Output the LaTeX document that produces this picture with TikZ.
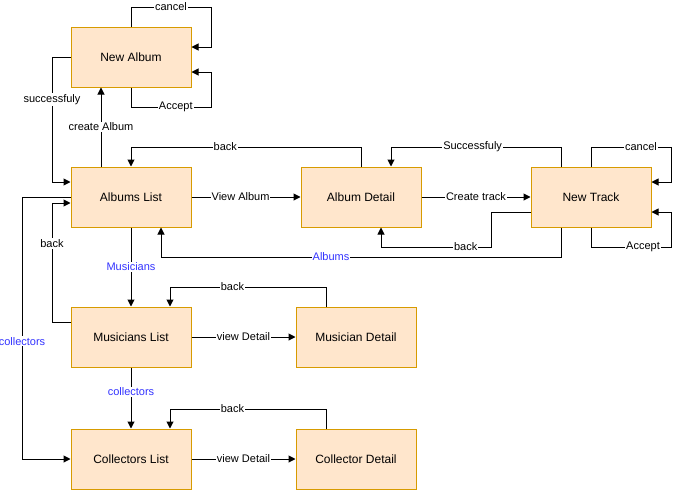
\documentclass[tikz,border=0pt]{standalone}
\usepackage{fontspec}
\setmainfont{Liberation Sans}
\usetikzlibrary{arrows.meta}
\definecolor{boxfill}{HTML}{FFE6CC}
\definecolor{boxborder}{HTML}{D79B00}
\definecolor{labblue}{HTML}{3333FF}
\begin{document}
\begin{tikzpicture}[x=1pt,y=-1pt,
  box/.style={draw=boxborder, fill=boxfill, line width=1pt, minimum width=120pt, minimum height=60pt, inner sep=0pt, font=\fontsize{12}{14}\selectfont},
  lab/.style={fill=white, inner sep=1pt, font=\fontsize{11}{13}\selectfont},
  blab/.style={lab, text=labblue},
  arr/.style={line width=1pt, -{Triangle[length=7pt,width=7pt]}}]
\useasboundingbox (0,0) rectangle (680,490);

\node[box] (na) at (131,57) {New Album};
\node[box] (al) at (131,197) {Albums List};
\node[box] (ad) at (361,197) {Album Detail};
\node[box] (nt) at (591,197) {New Track};
\node[box] (ml) at (131,337) {Musicians List};
\node[box] (md) at (356,337) {Musician Detail};
\node[box] (cl) at (131,459) {Collectors List};
\node[box] (cd) at (356,459) {Collector Detail};

% New Album loops
\draw[arr] (na.north) -- (131,7) -- node[lab]{cancel} (211,7) -- (211,47) -- ([yshift=10pt]na.east);
\draw[arr] (na.south) -- (131,107) -- node[lab,pos=0.56]{Accept} (211,107) -- (211,72) -- ([yshift=-15pt]na.east);
% successfuly
\draw[arr] (na.west) -- (52,57) -- node[lab,pos=0.34]{successfuly} (52,182) -- ([yshift=15pt]al.west);
% create Album
\draw[arr] ([xshift=-30pt]al.north) -- node[lab]{create Album} ([xshift=-30pt]na.south);
% back Album Detail -> Albums List
\draw[arr] (ad.north) -- (361,147) -- node[lab,pos=0.59]{back} (131,147) -- (al.north);
% View Album
\draw[arr] (al.east) -- node[lab,pos=0.45]{View Album} (ad.west);
% Successfuly
\draw[arr] ([xshift=-30pt]nt.north) -- (561,147) -- node[lab,pos=0.52]{Successfuly} (391,147) -- ([xshift=30pt]ad.north);
% Create track
\draw[arr] (ad.east) -- node[lab]{Create track} (nt.west);
% back New Track -> Album Detail
\draw[arr] ([yshift=-15pt]nt.west) -- (491,212) -- (491,247) -- node[lab,pos=0.23]{back} (381,247) -- ([xshift=20pt]ad.south);
% Albums
\draw[arr] ([xshift=-30pt]nt.south) -- (561,257) -- node[blab,pos=0.575]{Albums} (161,257) -- ([xshift=30pt]al.south);
% New Track loops
\draw[arr] (nt.north) -- (591,147) -- node[lab,pos=0.625]{cancel} (671,147) -- (671,182) -- ([yshift=15pt]nt.east);
\draw[arr] (nt.south) -- (591,247) -- node[lab,pos=0.65]{Accept} (671,247) -- (671,212) -- ([yshift=-15pt]nt.east);
% Musicians
\draw[arr] (al.south) -- node[blab]{Musicians} (ml.north);
% back Musicians List -> Albums List
\draw[arr] ([yshift=15pt]ml.west) -- (52,322) -- node[lab,pos=0.66]{back} (52,203) -- ([yshift=-6pt]al.west);
% collectors from Albums List
\draw[arr] (al.west) -- (22,197) -- node[blab,pos=0.55]{collectors} (22,459) -- (cl.west);
% Musician Detail
\draw[arr] ([xshift=-30pt]md.north) -- (326,287) -- node[lab,pos=0.6]{back} (170,287) -- ([xshift=39pt]ml.north);
\draw[arr] (ml.east) -- node[lab]{view Detail} (md.west);
% collectors
\draw[arr] (ml.south) -- node[blab,pos=0.4]{collectors} (cl.north);
% Collector Detail
\draw[arr] ([xshift=-30pt]cd.north) -- (326,409) -- node[lab,pos=0.6]{back} (170,409) -- ([xshift=39pt]cl.north);
\draw[arr] (cl.east) -- node[lab]{view Detail} (cd.west);
\end{tikzpicture}
\end{document}
